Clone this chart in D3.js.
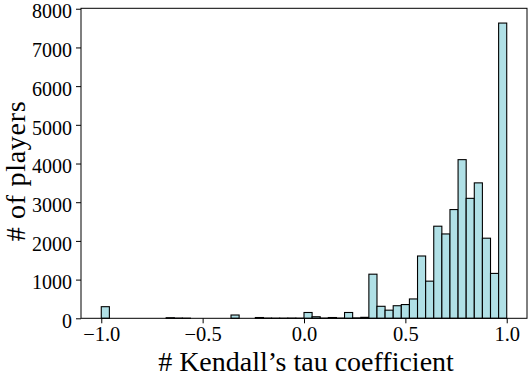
<!DOCTYPE html>
<html>
<head>
<meta charset="utf-8">
<script src="https://cdn.jsdelivr.net/npm/d3@7"></script>
<style>
  html, body { margin: 0; padding: 0; background: #fff; }
  svg { display: block; }
  text { font-family: "Liberation Serif", "DejaVu Serif", serif; fill: #000; }
</style>
</head>
<body>
<svg id="chart" width="529" height="378"></svg>
<script>
// ---- data ----
const binStart = -1.0;
const binWidth = 0.04;
const counts = [
  300, 0, 0, 0, 0, 0, 0, 0, 15, 5,
  3, 0, 0, 0, 0, 0, 85, 0, 0, 20,
  5, 3, 3, 5, 3, 150, 40, 5, 20, 5,
  150, 10, 25, 1140, 310, 210, 325, 355, 500, 1610,
  960, 2380, 2180, 2810, 4100, 3100, 3500, 2070, 1160, 7630
];
const xTicks = [-1.0, -0.5, 0.0, 0.5, 1.0];
const yTicks = [0, 1000, 2000, 3000, 4000, 5000, 6000, 7000, 8000];
const xLabel = "# Kendall\u2019s tau coefficient";
const yLabel = "# of players";

// ---- layout ----
const W = 529, H = 378;
const m = { left: 81, right: 2, top: 8.3, bottom: 59.7 };
const svg = d3.select("#chart");

const bins = counts.map((c, i) => ({ x0: binStart + i * binWidth, x1: binStart + (i + 1) * binWidth, n: c }));

const x = d3.scaleLinear().domain([-1.1, 1.1]).range([m.left, W - m.right]);
const yMax = d3.max(counts) * 1.05;
const y = d3.scaleLinear().domain([0, yMax]).range([H - m.bottom, m.top]);

// bars
svg.append("g")
  .selectAll("rect")
  .data(bins)
  .join("rect")
  .attr("x", d => x(d.x0))
  .attr("width", d => x(d.x1) - x(d.x0))
  .attr("y", d => y(d.n))
  .attr("height", d => y(0) - y(d.n))
  .attr("fill", "#b0e0e6")
  .attr("stroke", "#000")
  .attr("stroke-width", 1.1);

const fmtX = v => (v < 0 ? "\u2212" : "") + Math.abs(v).toFixed(1);

// x axis
const gx = svg.append("g")
  .attr("transform", `translate(0,${y(0)})`)
  .call(d3.axisBottom(x).tickValues(xTicks).tickFormat(fmtX).tickSize(5).tickPadding(3));
gx.selectAll("text").style("font-size", "20.5px");

// y axis
const gy = svg.append("g")
  .attr("transform", `translate(${m.left},0)`)
  .call(d3.axisLeft(y).tickValues(yTicks).tickFormat(d3.format("d")).tickSize(5).tickPadding(4));
gy.selectAll("text").style("font-size", "20px").attr("dy", "9.2px");

[gx, gy].forEach(g => {
  g.select(".domain").remove();
  g.selectAll("line").attr("stroke", "#000").attr("stroke-width", 1);
});

// frame
svg.append("rect")
  .attr("x", m.left).attr("y", m.top)
  .attr("width", W - m.right - m.left)
  .attr("height", y(0) - m.top)
  .attr("fill", "none").attr("stroke", "#000").attr("stroke-width", 1);

// labels
svg.append("text")
  .attr("x", (m.left + W - m.right) / 2 + 2)
  .attr("y", 371)
  .attr("text-anchor", "middle")
  .style("font-size", "28px")
  .text(xLabel);

svg.append("text")
  .attr("transform", `translate(25.2,171) rotate(-90)`)
  .attr("text-anchor", "middle")
  .style("font-size", "28px")
  .style("letter-spacing", "0.7px")
  .text(yLabel);
</script>
</body>
</html>
